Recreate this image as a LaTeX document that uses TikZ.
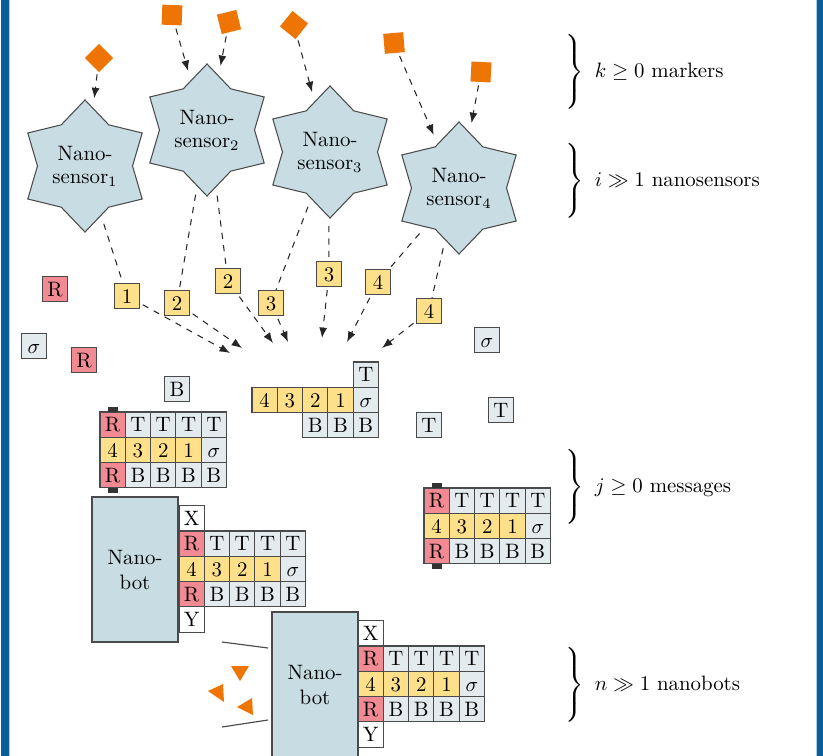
\documentclass[tikz,border=0pt]{standalone}
\usetikzlibrary{shapes.geometric,arrows.meta}
\definecolor{cyel}{HTML}{FEE08A}
\definecolor{cred}{HTML}{F28A93}
\definecolor{cgray}{HTML}{E4EBEE}
\definecolor{cstar}{HTML}{C7DCE3}
\definecolor{corange}{HTML}{EE7404}
\definecolor{cline}{HTML}{4A4A4A}
\definecolor{ctab}{HTML}{333333}
\definecolor{cblue}{HTML}{0B5F98}
\definecolor{clblue}{HTML}{A6D0EE}
\newcommand\fullmsg[3]{%
  \foreach \tx/\fc [count=\i from 0] in {R/cred,T/cgray,T/cgray,T/cgray,T/cgray}
    \node[cell, fill=\fc] (#1-a\i) at ({#2+12.65+25.3*\i},{#3+12.65}) {\tx};
  \foreach \tx/\fc [count=\i from 0] in {4/cyel,3/cyel,2/cyel,1/cyel,$\sigma$/cgray}
    \node[cell, fill=\fc] (#1-b\i) at ({#2+12.65+25.3*\i},{#3+37.95}) {\tx};
  \foreach \tx/\fc [count=\i from 0] in {R/cred,B/cgray,B/cgray,B/cgray,B/cgray}
    \node[cell, fill=\fc] (#1-c\i) at ({#2+12.65+25.3*\i},{#3+63.25}) {\tx};
}
\newcommand\msgtabs[3]{%
  \node[tabmark] (#1-tt) at ({#2+12.65},{#3-2.5}) {};
  \node[tabmark] (#1-tb) at ({#2+12.65},{#3+78.4}) {};
}
\begin{document}
\begin{tikzpicture}[x=0.48pt,y=-0.48pt,
  sensor/.style={star, star points=6, star point ratio=1.39, minimum size=63.4pt,
    inner sep=0pt, draw=cline, fill=cstar, line width=0.5pt, align=center},
  marker/.style={fill=corange, minimum size=9.6pt, inner sep=0pt},
  cell/.style={draw=cline, line width=0.55pt, minimum size=12.15pt, inner sep=0pt,
    text height=6.8pt, text depth=0pt},
  num/.style={cell, fill=cyel},
  tabmark/.style={fill=ctab, minimum width=4.8pt, minimum height=2.4pt, inner sep=0pt},
  bot/.style={draw=cline, line width=0.55pt, fill=cstar, minimum width=41.3pt,
    minimum height=69.6pt, inner sep=0pt, align=center},
  dsh/.style={dashed, line width=0.5pt, black!85},
  dsharr/.style={dsh, -{Latex[length=5pt,width=3.8pt]}},
  lbl/.style={anchor=west, inner sep=0pt}
]
\useasboundingbox (0,0) rectangle (823,756);
\fill[cblue] (1,0) rectangle (9,756);
\fill[clblue] (9,0) rectangle (10,756);
\fill[clblue] (816,0) rectangle (817,756);
\fill[cblue] (817,0) rectangle (823,756);

% nanosensors
\node[sensor] (s1) at (85,166) {Nano-\\[-1pt]sensor$_1$};
\node[sensor] (s2) at (207,130) {Nano-\\[-1pt]sensor$_2$};
\node[sensor] (s3) at (330,152) {Nano-\\[-1pt]sensor$_3$};
\node[sensor] (s4) at (459,188) {Nano-\\[-1pt]sensor$_4$};

% markers
\node[marker, rotate=45] (m1) at (99,58) {};
\node[marker, rotate=-2] (m2) at (172,15) {};
\node[marker, rotate=14] (m3) at (229,22) {};
\node[marker, rotate=51] (m4) at (294,25) {};
\node[marker, rotate=5] (m5) at (394,43) {};
\node[marker, rotate=-3] (m6) at (481,72) {};
\draw[dsharr, shorten <=1.5pt, shorten >=4.6pt] (m1) -- (s1.82);
\draw[dsharr, shorten <=1.5pt, shorten >=4.6pt] (m2) -- (s2.108);
\draw[dsharr, shorten <=1.5pt, shorten >=4.6pt] (m3) -- (s2.78);
\draw[dsharr, shorten <=1.5pt, shorten >=4.6pt] (m4) -- (s3.107);
\draw[dsharr, shorten <=1.5pt, shorten >=4.6pt] (m5) -- (s4.116);
\draw[dsharr, shorten <=1.5pt, shorten >=4.6pt] (m6) -- (s4.79);

% number boxes
\node[num] (b1) at (127,296) {1};
\node[num] (b2) at (177,303) {2};
\node[num] (b3) at (228,281) {2};
\node[num] (b4) at (271,303) {3};
\node[num] (b5) at (329,274) {3};
\node[num] (b6) at (378,282) {4};
\node[num] (b7) at (429,311) {4};
\draw[dsh, shorten <=4pt] (s1.-72) -- (b1);
\draw[dsh, shorten <=4pt] (s2.-100) -- (b2);
\draw[dsh, shorten <=4pt] (s2.-81) -- (b3);
\draw[dsh, shorten <=4pt] (s3.-112) -- (b4);
\draw[dsh, shorten <=4pt] (s3.-91) -- (b5);
\draw[dsh, shorten <=4pt] (s4.-131) -- (b6);
\draw[dsh, shorten <=4pt] (s4.-105) -- (b7);

\coordinate (t1) at (230,353);
\coordinate (t2) at (242,348);
\coordinate (t3) at (273,343);
\coordinate (t4) at (288,342);
\coordinate (t5) at (322,338);
\coordinate (t6) at (347,342);
\coordinate (t7) at (382,348);
\draw[dsharr, shorten <=1.4pt] (b1) -- (t1);
\draw[dsharr, shorten <=1.4pt] (b2) -- (t2);
\draw[dsharr, shorten <=1.4pt] (b3) -- (t3);
\draw[dsharr, shorten <=1.4pt] (b4) -- (t4);
\draw[dsharr, shorten <=1.4pt] (b5) -- (t5);
\draw[dsharr, shorten <=1.4pt] (b6) -- (t6);
\draw[dsharr, shorten <=1.4pt] (b7) -- (t7);

% loose cells
\node[cell, fill=cred] (r1) at (55,289) {R};
\node[cell, fill=cgray] (g1) at (34,346) {$\sigma$};
\node[cell, fill=cred] (r2) at (84,360) {R};
\node[cell, fill=cgray] (g2) at (177,389) {B};
\node[cell, fill=cgray] (g3) at (487,340) {$\sigma$};
\node[cell, fill=cgray] (g4) at (501,410) {T};
\node[cell, fill=cgray] (g5) at (429,425) {T};

% partial message
\node[cell, fill=cgray] (p-t) at (365.85,374.65) {T};
\node[cell, fill=cyel] (p-4) at (264.65,399.95) {4};
\node[cell, fill=cyel] (p-3) at (289.95,399.95) {3};
\node[cell, fill=cyel] (p-2) at (315.25,399.95) {2};
\node[cell, fill=cyel] (p-1) at (340.55,399.95) {1};
\node[cell, fill=cgray] (p-s) at (365.85,399.95) {$\sigma$};
\node[cell, fill=cgray] (p-b1) at (315.25,425.25) {B};
\node[cell, fill=cgray] (p-b2) at (340.55,425.25) {B};
\node[cell, fill=cgray] (p-b3) at (365.85,425.25) {B};

% complete messages
\fullmsg{ma}{100}{412}
\msgtabs{ma}{100}{412}
\fullmsg{mb}{424}{488}
\msgtabs{mb}{424}{488}

% nanobot 1
\node[bot] (n1) at (135,569.5) {Nano-\\bot};
\node[cell, fill=white] (mc-x) at (191.65,518.35) {X};
\fullmsg{mc}{179}{531}
\node[cell, fill=white] (mc-y) at (191.65,619.55) {Y};

% nanobot 2
\node[bot] (n2) at (315,684.5) {Nano-\\bot};
\node[cell, fill=white] (md-x) at (370.65,633.35) {X};
\fullmsg{md}{358}{646}
\node[cell, fill=white] (md-y) at (370.65,734.55) {Y};

% sensing cone and markers near nanobot 2
\draw[line width=0.55pt, cline] (222,642) -- (268,648);
\draw[line width=0.55pt, cline] (222,727) -- (268,720);
\fill[corange] (231,666) -- (249,666) -- (240,681) -- cycle;
\fill[corange] (208,691) -- (223,684) -- (224,702) -- cycle;
\fill[corange] (252,698) -- (237,707) -- (253,715) -- cycle;

% braces and labels
\node[lbl] (l1) at (563,72) {$\left.\vrule height 20.5pt depth 15.5pt width 0pt\right\}\ k\geq 0$ markers};
\node[lbl] (l2) at (563,181) {$\left.\vrule height 20.5pt depth 15.5pt width 0pt\right\}\ i\gg 1$ nanosensors};
\node[lbl] (l3) at (563,487) {$\left.\vrule height 20.5pt depth 15.5pt width 0pt\right\}\ j\geq 0$ messages};
\node[lbl] (l4) at (563,685) {$\left.\vrule height 20.5pt depth 15.5pt width 0pt\right\}\ n\gg 1$ nanobots};
\end{tikzpicture}
\end{document}
